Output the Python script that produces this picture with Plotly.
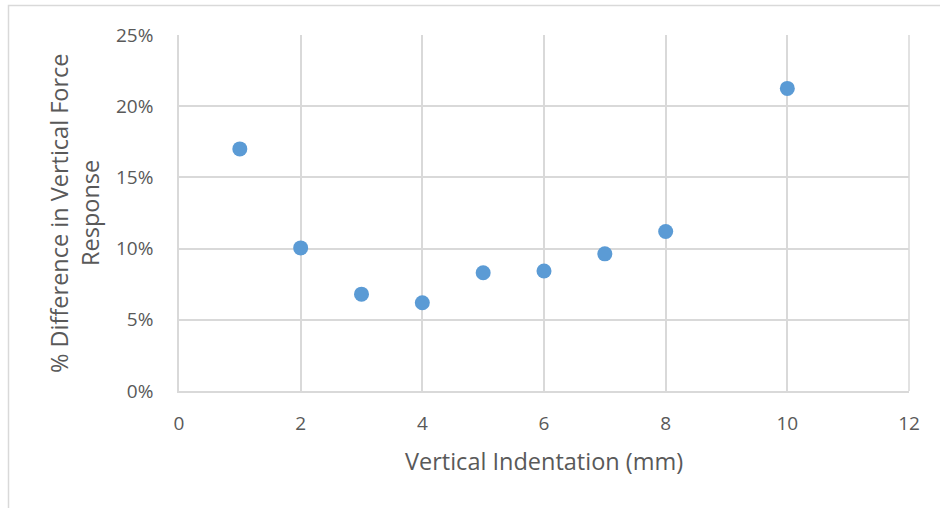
import plotly.graph_objects as go

# Vertical indentation (mm) and % difference in vertical force response
indentation_mm = [1, 2, 3, 4, 5, 6, 7, 8, 10]
pct_difference = [0.170, 0.1005, 0.068, 0.062, 0.083, 0.0843, 0.0963, 0.112, 0.2125]

x_ticks = [0, 2, 4, 6, 8, 10, 12]
y_ticks = [0, 0.05, 0.10, 0.15, 0.20, 0.25]
y_tick_labels = ["0%", "5%", "10%", "15%", "20%", "25%"]

x_title = "Vertical Indentation (mm)"
y_title_lines = ["% Difference in Vertical Force", "Response"]

FONT = "Open Sans, Liberation Sans, sans-serif"
TEXT_GREY = "#595959"
GRID = "#D9D9D9"

fig = go.Figure(
    go.Scatter(
        x=indentation_mm,
        y=pct_difference,
        mode="markers",
        marker=dict(size=15, color="#5B9BD5", line=dict(width=0)),
        showlegend=False,
    )
)

fig.update_xaxes(
    range=[0, 12],
    tickvals=x_ticks,
    showgrid=True,
    gridcolor=GRID,
    gridwidth=1.5,
    zeroline=False,
    showline=True,
    linecolor=GRID,
    linewidth=1.5,
    ticks="",
    ticklabelstandoff=14,
    tickfont=dict(family=FONT, size=19, color=TEXT_GREY),
)
fig.update_yaxes(
    range=[0, 0.25],
    tickvals=y_ticks,
    ticktext=y_tick_labels,
    showgrid=True,
    gridcolor=GRID,
    gridwidth=1.5,
    zeroline=False,
    showline=True,
    linecolor=GRID,
    linewidth=1.5,
    ticks="",
    ticklabelstandoff=20,
    tickfont=dict(family=FONT, size=19, color=TEXT_GREY),
)

# Horizontal axis title
fig.add_annotation(
    text=x_title,
    xref="paper", yref="paper",
    x=0.5, y=(391 - 461) / 356,
    yanchor="middle",
    showarrow=False,
    font=dict(family=FONT, size=23.5, color=TEXT_GREY),
)

# Two-line vertical axis title, one annotation per line
for line_text, px in zip(y_title_lines, [59, 90]):
    fig.add_annotation(
        text=line_text,
        xref="paper", yref="paper",
        x=(px - 179) / 730, y=(391 - 213) / 356,
        xanchor="center", yanchor="middle",
        textangle=-90,
        showarrow=False,
        font=dict(family=FONT, size=23.5, color=TEXT_GREY),
    )

# Light outer chart frame
fig.add_shape(
    type="rect", xref="paper", yref="paper",
    x0=(8.5 - 179) / 730, x1=1.06, y0=-0.36, y1=(391 - 5.5) / 356,
    line=dict(color=GRID, width=1.5),
    fillcolor="rgba(0,0,0,0)",
    layer="below",
)

# Right edge of the plot area
fig.add_shape(
    type="line", xref="paper", yref="paper",
    x0=1, x1=1, y0=0, y1=1,
    line=dict(color=GRID, width=1.5),
    layer="below",
)

fig.update_layout(
    width=940,
    height=508,
    margin=dict(l=179, r=31, t=35, b=117),
    paper_bgcolor="white",
    plot_bgcolor="white",
)

fig.write_html("out.html")
